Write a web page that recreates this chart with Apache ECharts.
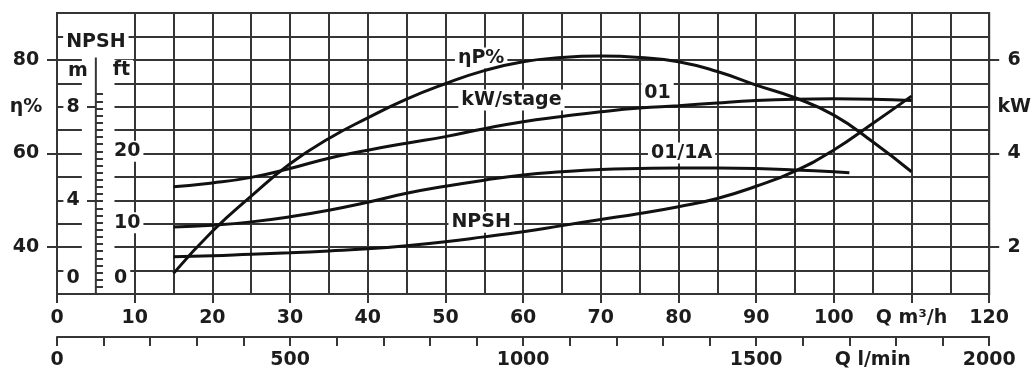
<!DOCTYPE html>
<html><head><meta charset="utf-8">
<script src="https://cdn.jsdelivr.net/npm/echarts@6/dist/echarts.min.js"></script>
<style>html,body{margin:0;padding:0;background:#fff}#c{width:1034px;height:372px}</style>
</head><body><div id="c"></div>
<script>
// ---- data ----
const flowQ   = [15,20,25,30,35,40,45,50,55,60,65,70,75,80,85,90,95,100,105,110];
const effEta  = [34.4,43.4,50.9,57.8,63.2,67.6,71.6,74.9,77.7,79.6,80.5,80.8,80.5,79.6,77.5,74.6,71.9,68.2,62.5,56.1];
const kw01    = [3.29,3.37,3.49,3.68,3.90,4.07,4.22,4.36,4.53,4.68,4.79,4.89,4.97,5.02,5.08,5.13,5.16,5.17,5.16,5.13];
const flow1A  = [15,20,25,30,35,40,45,50,55,60,65,70,75,80,85,90,95,100,102];
const kw01_1A = [2.43,2.47,2.54,2.65,2.79,2.96,3.15,3.30,3.43,3.54,3.61,3.66,3.68,3.69,3.69,3.68,3.65,3.61,3.59];
const npshM   = [1.59,1.63,1.70,1.76,1.84,1.93,2.06,2.23,2.44,2.66,2.92,3.18,3.44,3.73,4.08,4.60,5.25,6.15,7.28,8.45];
const npshScaleQ = [5,5];
const npshScaleM = [0,10.1];

// tick labels
const qLabelValues   = [0,10,20,30,40,50,60,70,80,90,100,110,120];
const qLabelTexts    = ['0','10','20','30','40','50','60','70','80','90','100','Q m³/h','120'];
const lpmLabelValues = [0,500,1000,1500,1750,2000];
const lpmLabelTexts  = ['0','500','1000','1500','Q l/min','2000'];
const etaLabelValues = [40,60,70,80];
const etaLabelTexts  = ['40','60','η%','80'];
const kwLabelValues  = [2,4,5,6];
const kwLabelTexts   = ['2','4','kW','6'];
const mLabelValues   = [0.68,4,8];
const mLabelTexts    = ['0','4','8'];
const ftLabelValues  = [2.2,10,20];
const ftLabelTexts   = ['0','10','20'];
const curveLabels    = ['ηP%','kW/stage','01','01/1A','NPSH'];

const GRID = '#353535', INK = '#1c1c1c', CURVE = '#111';
const FONT = {fontFamily:'DejaVu Sans', fontWeight:'bold', fontSize:19, color:INK};
function lookup(vals, texts){ return v => { for (let i=0;i<vals.length;i++) if (Math.abs(vals[i]-v)<1e-6) return texts[i]; return ''; }; }
const lpmTicks = []; for (let v=0; v<=2000; v+=100) lpmTicks.push(v);
const ftTicks = []; for (let v=0; v<=28; v+=1) ftTicks.push(v);
const pairs = (xs, ys) => xs.map((x,i)=>[x, ys[i]]);

const hidden = {show:false};
const curveSeries = (name, yIdx, xs, ys) => ({name:name, type:'line', xAxisIndex:0, yAxisIndex:yIdx, data:pairs(xs,ys),
  smooth:0.5, symbol:'none', silent:true, lineStyle:{color:CURVE, width:3}});
const option = {
  animation:false,
  backgroundColor:'#fff',
  grid:{left:57, top:13, right:41, bottom:78, show:true, borderColor:GRID, borderWidth:2, backgroundColor:'#fff'},
  xAxis:[
    {type:'value', min:0, max:120, interval:5, position:'bottom',
     axisLine:{show:true, onZero:false, lineStyle:{color:GRID, width:2}}, axisTick:hidden, axisLabel:hidden,
     splitLine:{show:true, lineStyle:{color:GRID, width:2}}},
    {type:'value', min:0, max:120, interval:10, position:'bottom',
     axisLine:{show:false, onZero:false}, splitLine:hidden,
     axisTick:{show:true, length:9, lineStyle:{color:GRID, width:2}},
     axisLabel:Object.assign({margin:15, formatter:lookup(qLabelValues,qLabelTexts)}, FONT)},
    {type:'value', min:0, max:2000, position:'bottom', offset:43,
     axisLine:{show:true, onZero:false, lineStyle:{color:GRID, width:2}}, splitLine:hidden,
     axisTick:{show:true, length:9, customValues:lpmTicks, lineStyle:{color:GRID, width:2}},
     axisLabel:Object.assign({margin:14, customValues:lpmLabelValues, formatter:lookup(lpmLabelValues,lpmLabelTexts)}, FONT)}
  ],
  yAxis:[
    {type:'value', min:30, max:90, interval:5, position:'left',
     axisLine:{show:true, onZero:false, lineStyle:{color:GRID, width:2}}, axisTick:hidden, axisLabel:hidden,
     splitLine:{show:true, lineStyle:{color:GRID, width:2}}},
    {type:'value', min:30, max:90, position:'left',
     axisLine:{show:false, onZero:false}, splitLine:hidden,
     axisTick:{show:true, length:10, customValues:[40,60,80], lineStyle:{color:GRID, width:2}},
     axisLabel:Object.assign({margin:31, align:'center', customValues:etaLabelValues, formatter:lookup(etaLabelValues,etaLabelTexts)}, FONT)},
    {type:'value', min:1, max:7, position:'right',
     axisLine:{show:false, onZero:false}, splitLine:hidden,
     axisTick:{show:true, length:10, customValues:[2,4,6], lineStyle:{color:GRID, width:2}},
     axisLabel:Object.assign({margin:25, align:'center', customValues:kwLabelValues, formatter:lookup(kwLabelValues,kwLabelTexts)}, FONT)},
    {type:'value', min:0, max:12, position:'left', offset:-39, z:6,
     axisLine:{show:false, onZero:false}, splitLine:hidden,
     axisTick:{show:true, length:9, customValues:[4,8], lineStyle:{color:GRID, width:2}},
     axisLabel:Object.assign({margin:23, align:'center', customValues:mLabelValues, formatter:lookup(mLabelValues,mLabelTexts),
       backgroundColor:'#fff', padding:[1,3]}, FONT)},
    {type:'value', min:0, max:12/0.3048, position:'left', offset:-39, z:6,
     axisLine:{show:false, onZero:false}, splitLine:hidden,
     axisTick:{show:true, inside:true, length:7, customValues:ftTicks, lineStyle:{color:GRID, width:2}},
     axisLabel:Object.assign({margin:15, inside:true, align:'left', customValues:ftLabelValues, formatter:lookup(ftLabelValues,ftLabelTexts),
       backgroundColor:'#fff', padding:[1,3]}, FONT)}
  ],
  series:[
    curveSeries('ηP%', 0, flowQ, effEta),
    curveSeries('01', 2, flowQ, kw01),
    curveSeries('01/1A', 2, flow1A, kw01_1A),
    curveSeries('NPSH', 3, flowQ, npshM),
    {name:'NPSH scale', type:'line', xAxisIndex:0, yAxisIndex:3, z:6, data:pairs(npshScaleQ,npshScaleM), symbol:'none', silent:true,
     lineStyle:{color:GRID, width:2}}
  ]
};
const chart = echarts.init(document.getElementById('c'));
chart.setOption(option);

const X  = q => chart.convertToPixel({xAxisIndex:0}, q);
const YE = v => chart.convertToPixel({yAxisIndex:0}, v);
const YM = v => chart.convertToPixel({yAxisIndex:3}, v);
const txt = (text, x, y, z) => ({type:'text', z:z, x:x, y:y, silent:true,
  style:{text:text, x:0, y:0, align:'center', verticalAlign:'middle', fill:INK,
         font:'bold 19px "DejaVu Sans"', backgroundColor:'#fff', padding:[1,3]}});
const rx0 = X(3.2), rx1 = X(7.4), ry0 = YE(90)+1, ry1 = YE(30)-1.5;
const anchors = [[54.6,80.4],[58.5,71.4],[77.3,72.9],[80.4,60.1],[54.6,45.3]];
const graphics = [
  {type:'rect', z:4, silent:true, shape:{x:rx0, y:ry0, width:rx1-rx0, height:ry1-ry0}, style:{fill:'#fff'}},
  {type:'rect', z:9, silent:true, shape:{x:X(4.3), y:0, width:X(5.7)-X(4.3), height:YE(90)-1.2}, style:{fill:'#fff'}},
  txt('NPSH', X(5), YM(10.76), 7),
  txt('m', X(2.7), YM(9.5), 7),
  txt('ft', X(8.3), YM(9.55), 7)
];
curveLabels.forEach((t,i)=>graphics.push(txt(t, X(anchors[i][0]), YE(anchors[i][1]), 1)));
chart.setOption({graphic:graphics});
</script></body></html>
